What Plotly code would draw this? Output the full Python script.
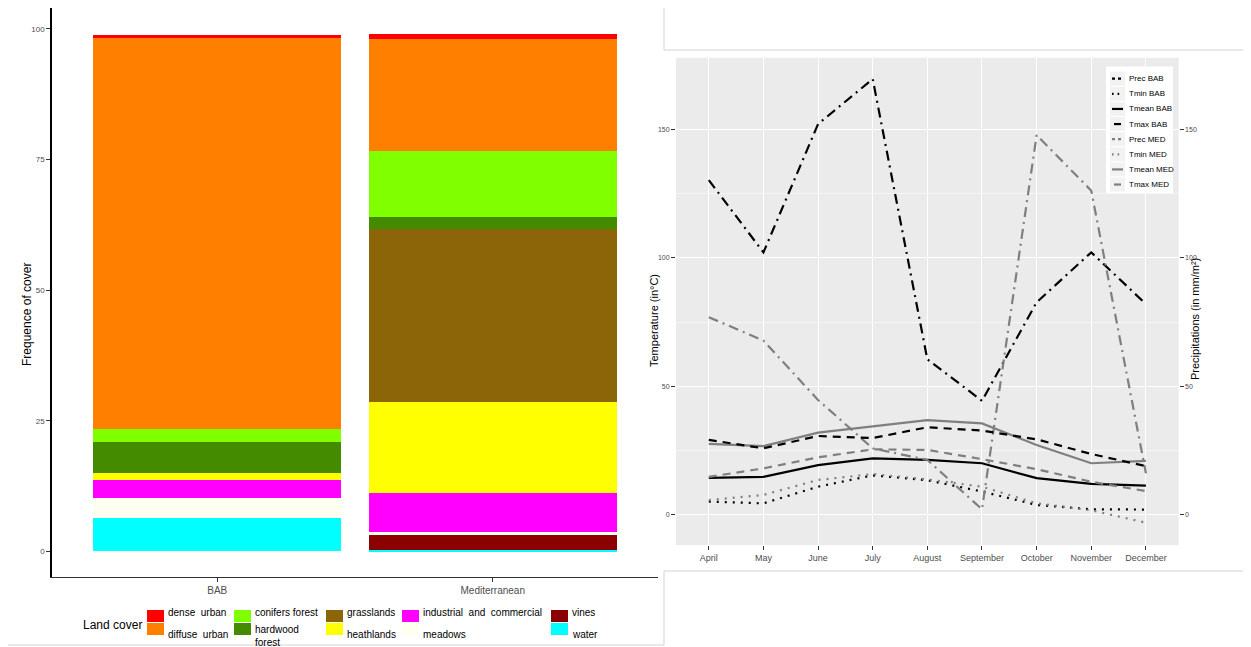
import plotly.graph_objects as go

W, H = 1251, 647
OFF = 8  # page body margin offset
FW, FH = W - OFF, H - OFF

# ---------------- Left panel data (stacked bars) ----------------
regions = ["BAB", "Mediterranean"]
land_cover = ["water", "vines", "meadows", "industrial  and  commercial", "heathlands",
              "grasslands", "hardwood forest", "conifers forest", "diffuse  urban", "dense  urban"]
bab_cover = [6.3, 0.0, 3.9, 3.4, 1.35, 0.0, 5.9, 2.5, 74.9, 0.6]
med_cover = [0.33, 2.87, 0.44, 7.6, 17.4, 33.1, 2.3, 12.65, 21.4, 0.95]
cover_colors = ["#00FFFF", "#8B0000", "#FFFFF0", "#FF00FF", "#FFFF00",
                "#8B6508", "#458B00", "#7FFF00", "#FF7F00", "#FF0000"]
y_ticks_left = [0, 25, 50, 75, 100]

# ---------------- Right panel data (climate lines) ----------------
months = ["April", "May", "June", "July", "August", "September", "October", "November", "December"]
prec_bab = [29.2, 25.9, 30.7, 29.9, 34.1, 32.8, 29.4, 23.7, 19.0]
tmin_bab = [5.2, 4.5, 11.0, 15.4, 13.5, 9.1, 3.9, 2.2, 2.1]
tmean_bab = [14.4, 14.8, 19.4, 22.0, 21.4, 20.1, 14.3, 12.1, 11.4]
tmax_bab = [130.2, 102.1, 152.0, 169.5, 60.5, 44.4, 82.7, 102.1, 82.0]
prec_med = [14.8, 18.1, 22.4, 25.5, 25.3, 21.7, 17.8, 12.9, 9.3]
tmin_med = [5.8, 7.8, 13.6, 15.9, 13.8, 11.0, 4.5, 1.8, -3.0]
tmean_med = [27.6, 26.8, 32.0, 34.5, 36.9, 35.6, 27.2, 20.1, 21.0]
tmax_med = [76.9, 67.8, 44.7, 25.9, 21.4, 2.2, 147.7, 126.1, 16.2]
y_ticks_right = [0, 50, 100, 150]

FONT = "Liberation Sans, Arial, Helvetica, sans-serif"
TICKC = "#4D4D4D"


def px(x):
    return (x - OFF) / FW


def py(y):
    return 1 - (y - OFF) / FH


fig = go.Figure()

# stacked bars
for name, b, m, c in zip(land_cover, bab_cover, med_cover, cover_colors):
    fig.add_trace(go.Bar(x=regions, y=[b, m], name=name, marker=dict(color=c, line=dict(width=0)),
                         xaxis="x", yaxis="y", showlegend=False))

# lines
BLACK, GREY = "#000000", "#7F7F7F"
DASHED, DOTTED, DOTDASH = "8px,6px", "2px,6px", "10px,5px,2px,5px"
series = [
    ("Prec BAB", prec_bab, BLACK, DASHED, "y3"),
    ("Tmin BAB", tmin_bab, BLACK, DOTTED, "y2"),
    ("Tmean BAB", tmean_bab, BLACK, "solid", "y2"),
    ("Tmax BAB", tmax_bab, BLACK, DOTDASH, "y2"),
    ("Prec MED", prec_med, GREY, DASHED, "y3"),
    ("Tmin MED", tmin_med, GREY, DOTTED, "y2"),
    ("Tmean MED", tmean_med, GREY, "solid", "y2"),
    ("Tmax MED", tmax_med, GREY, DOTDASH, "y2"),
]
for name, vals, col, dash, yax in series:
    fig.add_trace(go.Scatter(x=months, y=vals, name=name, mode="lines",
                             line=dict(color=col, width=2.2, dash=dash),
                             xaxis="x2", yaxis=yax, showlegend=False))

shapes = []
annotations = []

# right panel background
shapes.append(dict(type="rect", xref="x2 domain", yref="y2 domain", x0=0, x1=1, y0=0, y1=1,
                   fillcolor="#EBEBEB", line=dict(width=0), layer="below"))

# frame lines (image composition)
frame_col = "#D3D3D3"
for (x0, y0, x1, y1) in [(8, 645, 664, 645), (664, 571, 664, 645), (664, 571, 1251, 571),
                         (664, 8, 664, 50), (664, 50, 1251, 50)]:
    shapes.append(dict(type="line", xref="paper", yref="paper", x0=px(x0), y0=py(y0),
                       x1=px(x1), y1=py(y1), line=dict(color=frame_col, width=1), layer="above"))

# axis titles
annotations.append(dict(text="Frequence of cover", x=px(18), y=py(315), xref="paper", yref="paper",
                        textangle=-90, showarrow=False, font=dict(size=12, color="#000000")))
annotations.append(dict(text="Temperature (in°C)", x=px(654), y=py(321), xref="paper", yref="paper",
                        textangle=-90, showarrow=False, font=dict(size=11, color="#000000")))
annotations.append(dict(text="Precipitations (in mm/m²)", x=px(1203), y=py(319), xref="paper", yref="paper",
                        textangle=-90, showarrow=False, font=dict(size=11, color="#000000")))

# left legend (manual, two rows per column)
annotations.append(dict(text="Land cover", x=px(81), y=py(625), xref="paper", yref="paper",
                        xanchor="left", yanchor="middle", showarrow=False,
                        font=dict(size=12, color="#000000")))
legend_cols = [
    (147, [("dense  urban", "#FF0000"), ("diffuse  urban", "#FF7F00")]),
    (234, [("conifers forest", "#7FFF00"), ("hardwood<br>forest", "#458B00")]),
    (326, [("grasslands", "#8B6508"), ("heathlands", "#FFFF00")]),
    (402, [("industrial  and  commercial", "#FF00FF"), ("meadows", "#FFFFF0")]),
    (551, [("vines", "#8B0000"), ("water", "#00FFFF")]),
]
for kx, items in legend_cols:
    for r, (lab, col) in enumerate(items):
        y0 = 610 + 13 * r
        shapes.append(dict(type="rect", xref="paper", yref="paper", x0=px(kx), x1=px(kx + 17),
                           y0=py(y0), y1=py(y0 + 12), fillcolor=col, line=dict(width=0)))
        ty = 612 if r == 0 else (636 if "<br>" in lab else 634)
        annotations.append(dict(text=lab, x=px(kx + 19), y=py(ty), xref="paper", yref="paper",
                                xanchor="left", yanchor="middle", showarrow=False, align="left",
                                font=dict(size=10, color="#000000")))

# right legend (manual)
shapes.append(dict(type="rect", xref="paper", yref="paper", x0=px(1106), x1=px(1173),
                   y0=py(66.5), y1=py(193), fillcolor="#FFFFFF", line=dict(width=0), layer="above"))
key_dash = {DASHED: "3px,3px", DOTTED: "1.6px,4px", DOTDASH: "solid", "solid": "solid"}
for i, (name, vals, col, dash, yax) in enumerate(series):
    cy = 78.7 + 15.12 * i
    shapes.append(dict(type="rect", xref="paper", yref="paper", x0=px(1110), x1=px(1125),
                       y0=py(cy - 7), y1=py(cy + 7), fillcolor="#F2F2F2", line=dict(width=0), layer="above"))
    kx0, kx1 = (1112, 1123) if dash != DOTDASH else (1114, 1121)
    shapes.append(dict(type="line", xref="paper", yref="paper", x0=px(kx0), x1=px(kx1), y0=py(cy), y1=py(cy),
                       line=dict(color=col, width=2.2, dash=key_dash[dash]), layer="above"))
    annotations.append(dict(text=name, x=px(1127), y=py(cy), xref="paper", yref="paper",
                            xanchor="left", yanchor="middle", showarrow=False,
                            font=dict(size=8, color="#000000")))

fig.update_layout(
    width=FW, height=FH, margin=dict(l=0, r=0, t=0, b=0),
    paper_bgcolor="#FFFFFF", plot_bgcolor="rgba(0,0,0,0)",
    font=dict(family=FONT),
    barmode="stack", bargap=0.1, showlegend=False,
    xaxis=dict(domain=[px(52), px(658)], range=[-0.6, 1.6], type="category", anchor="y",
               showline=True, linecolor="#333333", linewidth=1.2, ticks="outside", ticklen=4,
               tickcolor="#333333", tickfont=dict(size=10, color=TICKC), showgrid=False, zeroline=False),
    yaxis=dict(domain=[py(577), py(8)], range=[-4.9, 104], anchor="x", tickvals=y_ticks_left,
               showline=True, linecolor="#000000", linewidth=1.5, ticks="outside", ticklen=4,
               tickcolor="#333333", tickfont=dict(size=8, color=TICKC), showgrid=False, zeroline=False),
    xaxis2=dict(domain=[px(676), px(1178.7)], range=[-0.6, 8.6], type="category", anchor="y2",
                showgrid=True, gridcolor="#FFFFFF", gridwidth=1.1, ticks="outside", ticklen=4,
                tickcolor="#333333", tickfont=dict(size=9, color=TICKC), showline=False, zeroline=False),
    yaxis2=dict(domain=[py(545.3), py(57.7)], range=[-11.8, 177.8], anchor="x2", tickvals=y_ticks_right,
                showgrid=True, gridcolor="#FFFFFF", gridwidth=1.1, ticks="outside", ticklen=4,
                tickcolor="#333333", tickfont=dict(size=7, color=TICKC), zeroline=False, showline=False,
                minor=dict(tickvals=[25, 75, 125], showgrid=True, gridcolor="#F6F6F6", gridwidth=0.6)),
    yaxis3=dict(overlaying="y2", side="right", anchor="x2", range=[-11.8, 177.8], tickvals=y_ticks_right,
                showgrid=False, ticks="outside", ticklen=4, tickcolor="#333333",
                tickfont=dict(size=7, color=TICKC), zeroline=False, showline=False),
    shapes=shapes, annotations=annotations,
)

fig.write_html("out.html")
